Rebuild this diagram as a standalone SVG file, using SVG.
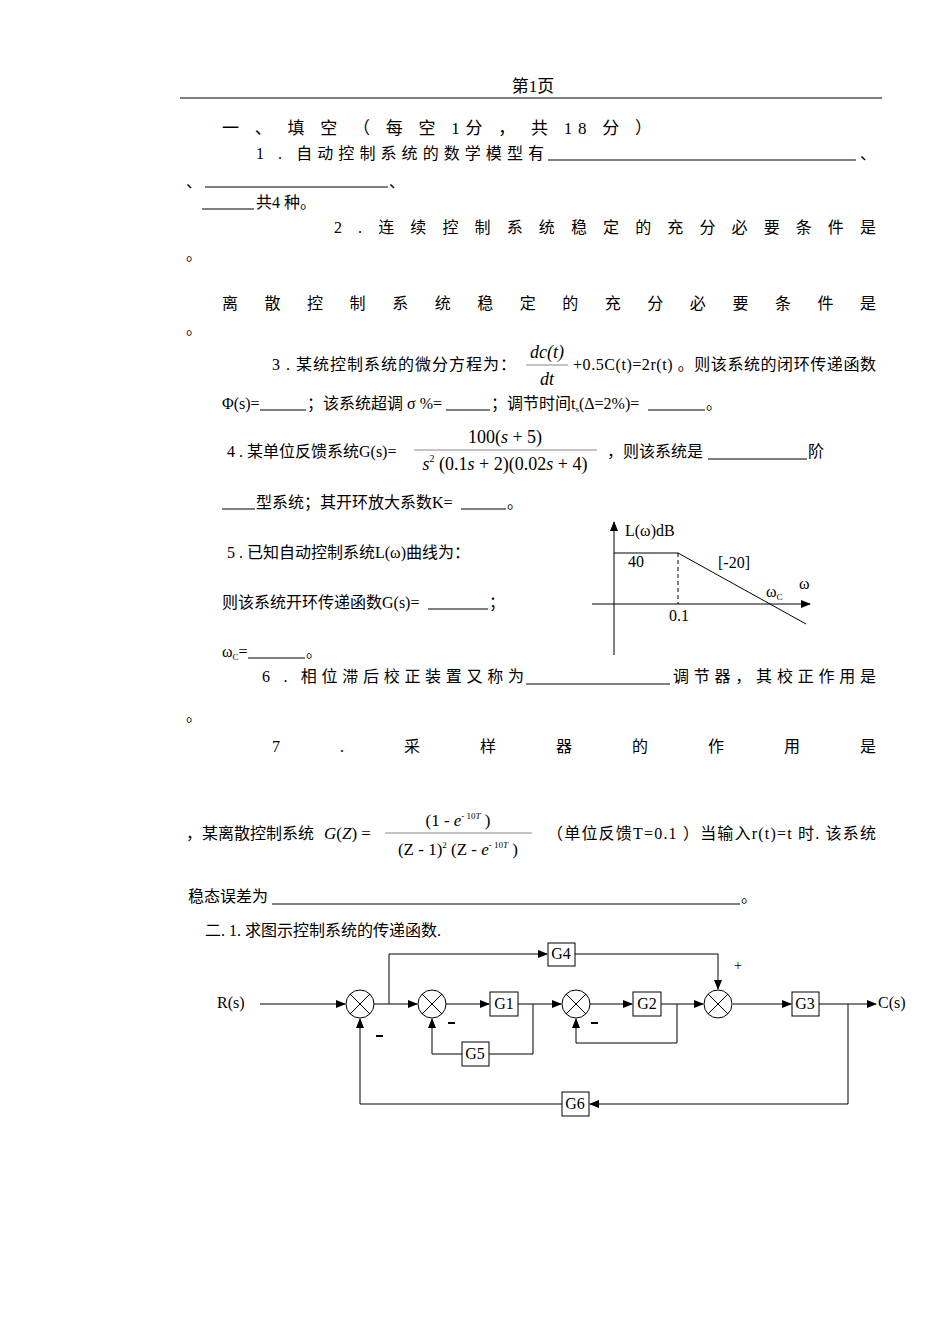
<svg xmlns="http://www.w3.org/2000/svg" width="950" height="1344" viewBox="0 0 950 1344">
<style>
text{font-family:"Liberation Serif","Noto Sans CJK SC",serif;font-size:16px;fill:#000}
.m{font-style:italic}
.eq{font-size:18px}
.eq2{font-size:17px}
.h{font-size:17px}
.ln{stroke:#000;stroke-width:1;fill:none}
.u{stroke:#000;stroke-width:1}
.bx{stroke:#000;stroke-width:1;fill:#fff}
</style>
<defs>
<marker id="a" markerWidth="10" markerHeight="8" refX="9" refY="4" orient="auto" markerUnits="userSpaceOnUse"><path d="M0,0L10,4L0,8z" fill="#000"/></marker>
</defs>
<rect width="950" height="1344" fill="#fff"/>
<text x="533" y="92" text-anchor="middle" class="h">第1页</text>
<line x1="180" y1="98" x2="882" y2="98" stroke="#000"/>
<text x="222" y="134" class="h" textLength="430" lengthAdjust="spacing">一 、 填 空 （ 每 空 1分 ， 共 18 分 ）</text>
<text x="256" y="159" textLength="288" lengthAdjust="spacing">1 . 自动控制系统的数学模型有</text>
<line x1="548" y1="160" x2="856" y2="160" class="u"/>
<text x="860" y="159">、</text>
<text x="186" y="187">、</text><line x1="205" y1="187" x2="388" y2="187" class="u"/><text x="389" y="187">、</text>
<line x1="202" y1="209" x2="254" y2="209" class="u"/><text x="256" y="208">共4 种。</text>
<text x="334" y="233" textLength="542" lengthAdjust="spacing">2 . 连 续 控 制 系 统 稳 定 的 充 分 必 要 条 件 是</text>
<text x="186" y="260">。</text>
<text x="222" y="309" textLength="654" lengthAdjust="spacing">离 散 控 制 系 统 稳 定 的 充 分 必 要 条 件 是</text>
<text x="186" y="334">。</text>
<text x="272" y="370" textLength="244" lengthAdjust="spacing">3 . 某统控制系统的微分方程为：</text>
<text x="547" y="358" class="m eq" text-anchor="middle">dc(t)</text>
<line x1="526" y1="365" x2="568" y2="365" stroke="#888"/>
<text x="547" y="385" class="m eq" text-anchor="middle">dt</text>
<text x="573" y="370" textLength="303" lengthAdjust="spacing">+0.5C(t)=2r(t) 。则该系统的闭环传递函数</text>
<text x="222" y="409">Φ(s)=</text><line x1="260" y1="410" x2="306" y2="410" class="u"/>
<text x="307" y="409">；该系统超调 σ %=</text><line x1="446" y1="410" x2="490" y2="410" class="u"/>
<text x="491" y="409">；调节时间t<tspan font-size="9" dy="3">s</tspan><tspan dy="-3">(Δ=2%)=</tspan></text><line x1="648" y1="410" x2="705" y2="410" class="u"/>
<text x="706" y="409">。</text>
<text x="227" y="457">4 . 某单位反馈系统G(s)=</text>
<text x="505" y="443" text-anchor="middle" class="eq">100(<tspan class="m">s</tspan> + 5)</text>
<line x1="414" y1="450" x2="597" y2="450" stroke="#888"/>
<text x="505" y="470" text-anchor="middle" class="eq"><tspan class="m">s</tspan><tspan font-size="10" dy="-8">2</tspan><tspan dy="8"> (0.1</tspan><tspan class="m">s</tspan> + 2)(0.02<tspan class="m">s</tspan> + 4)</text>
<text x="607" y="457">，则该系统是</text><line x1="708" y1="459" x2="807" y2="459" class="u"/><text x="808" y="457">阶</text>
<line x1="222" y1="509" x2="255" y2="509" class="u"/>
<text x="256" y="508">型系统；其开环放大系数K=</text><line x1="461" y1="509" x2="506" y2="509" class="u"/><text x="507" y="508">。</text>
<text x="227" y="558">5 . 已知自动控制系统L(ω)曲线为：</text>
<text x="222" y="608">则该系统开环传递函数G(s)=</text><line x1="428" y1="609" x2="488" y2="609" class="u"/><text x="489" y="608">；</text>
<text x="222" y="657">ω<tspan font-size="9" dy="3">C</tspan><tspan dy="-3">=</tspan></text><line x1="248" y1="658" x2="305" y2="658" class="u"/><text x="306" y="657">。</text>
<g id="bode">
<line x1="614" y1="655" x2="614" y2="522" class="ln" marker-end="url(#a)"/>
<line x1="592" y1="604" x2="810" y2="604" class="ln" marker-end="url(#a)"/>
<polyline points="614,553 678,553 806,624" class="ln"/>
<line x1="678" y1="553" x2="678" y2="604" class="ln" stroke-dasharray="4,3"/>
<text x="625" y="536">L(ω)dB</text>
<text x="628" y="567">40</text>
<text x="718" y="568">[-20]</text>
<text x="766" y="597">ω<tspan font-size="9" dy="3">C</tspan></text>
<text x="799" y="589">ω</text>
<text x="669" y="621">0.1</text>
</g>
<text x="262" y="682" textLength="262" lengthAdjust="spacing">6 . 相位滞后校正装置又称为</text>
<line x1="526" y1="684" x2="670" y2="684" class="u"/>
<text x="673" y="682" textLength="203" lengthAdjust="spacing">调节器，其校正作用是</text>
<text x="186" y="721">。</text>
<text x="272" y="752" textLength="604" lengthAdjust="spacing">7　　.　　采　　样　　器　　的　　作　　用　　是</text>
<text x="186" y="839">，某离散控制系统</text>
<text x="324" y="839" class="eq2"><tspan class="m">G</tspan>(<tspan class="m">Z</tspan>) =</text>
<text x="458" y="826" text-anchor="middle" class="eq2">(1 - <tspan class="m">e</tspan><tspan font-size="9" dy="-7">- 10<tspan class="m">T</tspan></tspan><tspan dy="7"> )</tspan></text>
<line x1="385" y1="833" x2="532" y2="833" stroke="#888"/>
<text x="458" y="855" text-anchor="middle" class="eq2">(Z - 1)<tspan font-size="9" dy="-7">2</tspan><tspan dy="7"> (Z - </tspan><tspan class="m">e</tspan><tspan font-size="9" dy="-7">- 10<tspan class="m">T</tspan></tspan><tspan dy="7"> )</tspan></text>
<text x="547" y="839" textLength="329" lengthAdjust="spacing">（单位反馈T=0.1 ）当输入r(t)=t 时. 该系统</text>
<text x="188" y="902">稳态误差为</text>
<line x1="272" y1="904" x2="740" y2="904" class="u"/>
<text x="741" y="902">。</text>
<text x="205" y="936">二. 1. 求图示控制系统的传递函数.</text>
<g id="connectors">
<line x1="260" y1="1004" x2="345" y2="1004" class="ln" marker-end="url(#a)"/>
<line x1="374" y1="1004" x2="417" y2="1004" class="ln" marker-end="url(#a)"/>
<polyline points="389,1004 389,954 547,954" class="ln" marker-end="url(#a)"/>
<polyline points="575,954 718,954 718,989" class="ln" marker-end="url(#a)"/>
<line x1="446" y1="1004" x2="489" y2="1004" class="ln" marker-end="url(#a)"/>
<line x1="518" y1="1004" x2="561" y2="1004" class="ln" marker-end="url(#a)"/>
<polyline points="533,1004 533,1054 489,1054" class="ln"/>
<polyline points="462,1054 432,1054 432,1019" class="ln" marker-end="url(#a)"/>
<line x1="590" y1="1004" x2="632" y2="1004" class="ln" marker-end="url(#a)"/>
<line x1="661" y1="1004" x2="703" y2="1004" class="ln" marker-end="url(#a)"/>
<polyline points="677,1004 677,1043 576,1043 576,1019" class="ln" marker-end="url(#a)"/>
<line x1="733" y1="1004" x2="791" y2="1004" class="ln" marker-end="url(#a)"/>
<line x1="819" y1="1004" x2="876" y2="1004" class="ln" marker-end="url(#a)"/>
<polyline points="848,1004 848,1104 590,1104" class="ln" marker-end="url(#a)"/>
<polyline points="562,1104 360,1104 360,1019" class="ln" marker-end="url(#a)"/>
</g>
<g id="sum1"><circle cx="360" cy="1004" r="14" class="bx"/><path d="M350,994L370,1014M370,994L350,1014" class="ln"/></g>
<g id="sum2"><circle cx="432" cy="1004" r="14" class="bx"/><path d="M422,994L442,1014M442,994L422,1014" class="ln"/></g>
<g id="sum3"><circle cx="576" cy="1004" r="14" class="bx"/><path d="M566,994L586,1014M586,994L566,1014" class="ln"/></g>
<g id="sum4"><circle cx="718" cy="1004" r="14" class="bx"/><path d="M708,994L728,1014M728,994L708,1014" class="ln"/></g>
<g id="G1"><rect x="490" y="992" width="28" height="24" class="bx"/><text x="504" y="1009" text-anchor="middle">G1</text></g>
<g id="G2"><rect x="633" y="992" width="28" height="24" class="bx"/><text x="647" y="1009" text-anchor="middle">G2</text></g>
<g id="G3"><rect x="792" y="992" width="27" height="24" class="bx"/><text x="805" y="1009" text-anchor="middle">G3</text></g>
<g id="G4"><rect x="548" y="943" width="27" height="23" class="bx"/><text x="561" y="959" text-anchor="middle">G4</text></g>
<g id="G5"><rect x="462" y="1042" width="27" height="24" class="bx"/><text x="475" y="1059" text-anchor="middle">G5</text></g>
<g id="G6"><rect x="562" y="1092" width="27" height="24" class="bx"/><text x="575" y="1109" text-anchor="middle">G6</text></g>
<text x="217" y="1008">R(s)</text>
<text x="878" y="1008">C(s)</text>
<line x1="376" y1="1036" x2="383" y2="1036" stroke="#000" stroke-width="2"/>
<line x1="448" y1="1023" x2="455" y2="1023" stroke="#000" stroke-width="2"/>
<line x1="591" y1="1023" x2="598" y2="1023" stroke="#000" stroke-width="2"/>
<text x="734" y="970" style="font-size:14px">+</text>
</svg>
